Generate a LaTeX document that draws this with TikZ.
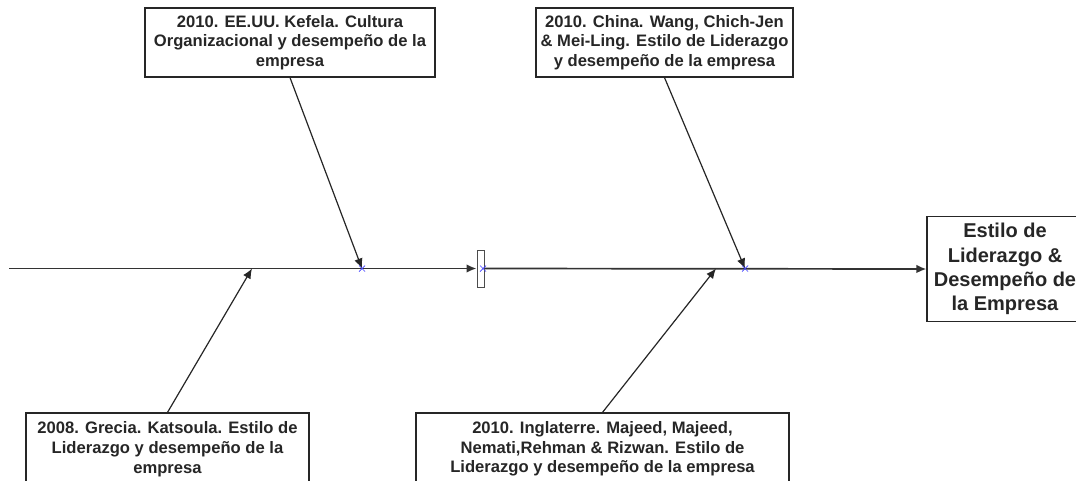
\documentclass[tikz,border=0pt]{standalone}
\usepackage{fontspec}
\setmainfont{Liberation Sans}
\usetikzlibrary{arrows.meta}
\begin{document}
\begin{tikzpicture}[x=1pt,y=-1pt,
  cause/.style={draw=black!85, line width=1.2pt, fill=white, inner sep=0pt,
    align=center, text=black!85, font=\bfseries\fontsize{16.6}{19.7}\selectfont},
  effect/.style={draw=black!85, line width=1.2pt, fill=white, inner sep=0pt,
    align=center, text=black!85, font=\bfseries\fontsize{20}{24.3}\selectfont},
  spine/.style={draw=black!80, line width=1.7pt, -{Latex[length=10pt,width=8.5pt]}},
  bone/.style={draw=black!85, line width=1.2pt, -{Latex[length=10pt,width=8.5pt]}},
  xmark/.style={draw=blue!75, line width=0.7pt}]
\clip (0,0) rectangle (1076,480);
\fill[white] (0,0) rectangle (1076,480);

% points on the main axis
\coordinate (tail) at (9,268.5);
\coordinate (m1) at (362,268.5);
\coordinate (m2) at (483,268.5);
\coordinate (m3) at (745,268.5);
\coordinate (b1) at (252,268.5);
\coordinate (b2) at (716,268.5);

% effect box
\node[effect, minimum width=156pt, minimum height=105pt] (effect) at (1005,269)
  {Estilo de\\Liderazgo \&\\Desempeño de\\la Empresa};

% cause boxes
\node[cause, minimum width=290pt, minimum height=69pt] (tl) at (290,42.5)
  {2010. EE.UU. Kefela. Cultura\\Organizacional y desempeño de la\\empresa};
\node[cause, minimum width=257pt, minimum height=69pt] (tr) at (664.5,42.5)
  {2010. China. Wang, Chich-Jen\\\& Mei-Ling. Estilo de Liderazgo\\y desempeño de la empresa};
\node[cause, minimum width=283pt, minimum height=72pt] (bl) at (167.5,449)
  {2008. Grecia. Katsoula. Estilo de\\Liderazgo y desempeño de la\\empresa};
\node[cause, minimum width=373pt, minimum height=72pt] (br) at (602.5,449)
  {2010. Inglaterre. Majeed, Majeed,\\Nemati,Rehman \& Rizwan. Estilo de\\Liderazgo y desempeño de la empresa};

% junction on the axis
\node[draw=black!70, line width=1pt, fill=white, minimum width=7pt,
  minimum height=37pt, inner sep=0pt] (joint) at (480.5,268.5) {};

% main axis
\draw[spine] (tail) -- (joint.west);
\draw[spine] (joint.east) -- (effect.west);

% branches
\draw[bone] (tl.south) -- (m1);
\draw[bone] (tr.south) -- (m3);
\draw[bone] (bl.north) -- (b1);
\draw[bone] (br.north) -- (b2);

% crossing markers
\foreach \p in {m1,m2,m3}
  \draw[xmark] (\p) +(-3,-3) -- +(3,3) +(-3,3) -- +(3,-3);
\end{tikzpicture}
\end{document}
